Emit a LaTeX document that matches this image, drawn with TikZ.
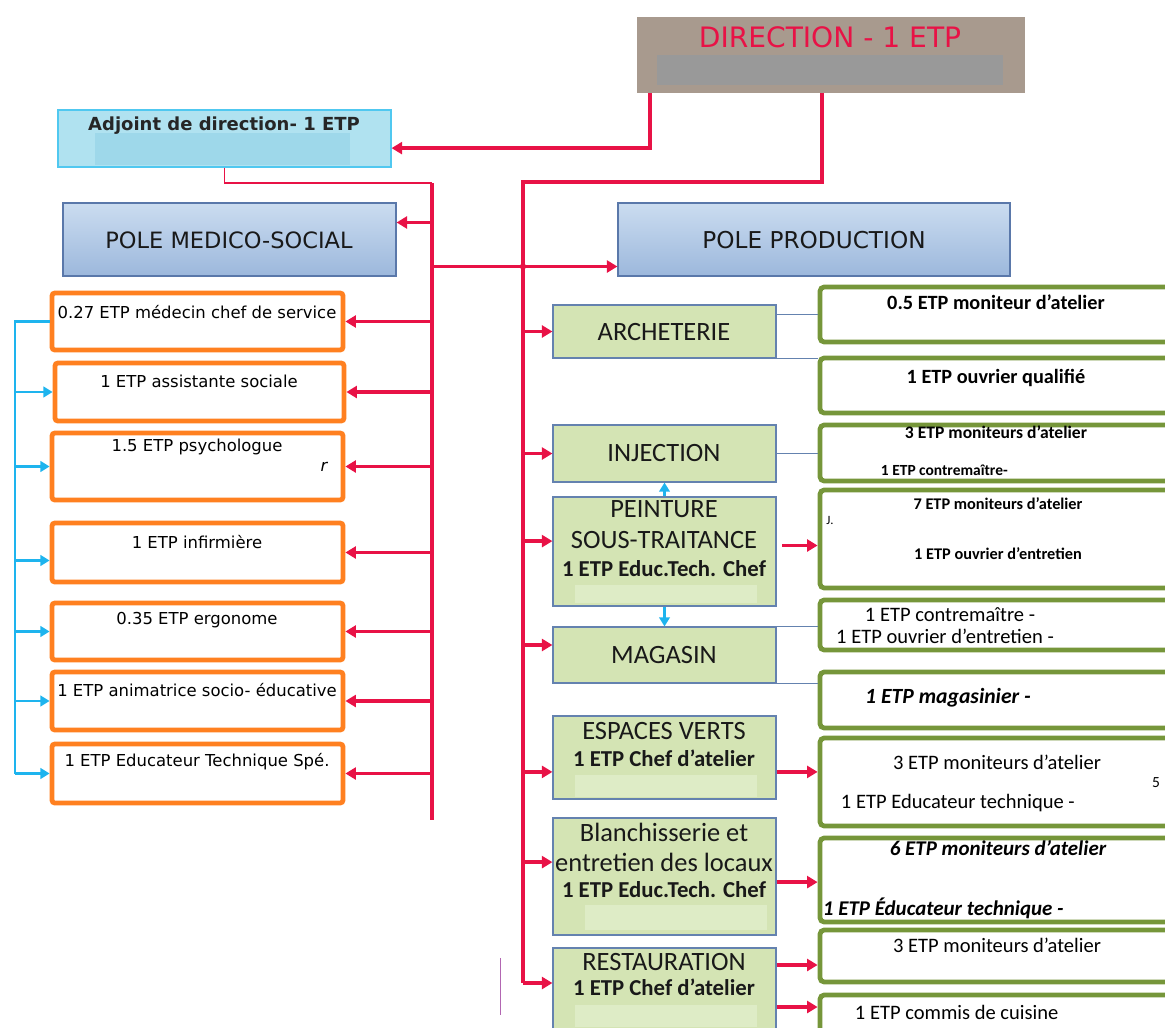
\documentclass[tikz,border=0pt]{standalone}
\usepackage{fontspec}
\setmainfont{Carlito}
\newfontfamily\tahfont{DejaVu Sans}
\usetikzlibrary{arrows.meta,fit}

\definecolor{linkred}{RGB}{232,18,70}
\definecolor{linkblue}{RGB}{30,180,238}
\definecolor{msorange}{RGB}{255,128,32}
\definecolor{prodgreen}{RGB}{118,150,58}
\definecolor{dirbrown}{RGB}{168,154,142}
\definecolor{dirgray}{RGB}{153,153,153}
\definecolor{adjfill}{RGB}{176,226,240}
\definecolor{adjpatch}{RGB}{158,216,234}
\definecolor{adjborder}{RGB}{80,200,240}
\definecolor{poletop}{RGB}{203,220,240}
\definecolor{polebot}{RGB}{156,184,220}
\definecolor{poleborder}{RGB}{90,120,170}
\definecolor{atelfill}{RGB}{212,228,180}
\definecolor{atelpatch}{RGB}{222,236,198}
\definecolor{atelborder}{RGB}{100,130,175}

\tikzset{
  dirbox/.style={fill=dirbrown, inner sep=0pt},
  adjbox/.style={fill=adjfill, draw=adjborder, line width=0.8pt, inner sep=0pt},
  polebox/.style={top color=poletop, bottom color=polebot, draw=poleborder, line width=0.8pt, inner sep=0pt},
  msbox/.style={fill=white, draw=msorange, line width=3.4pt, rounded corners=2pt, inner sep=0pt},
  atelbox/.style={fill=atelfill, draw=atelborder, line width=0.8pt, inner sep=0pt},
  staffbox/.style={fill=white, draw=prodgreen, line width=3.4pt, rounded corners=3pt, inner sep=0pt},
  redlink/.style={draw=linkred, line width=2.8pt},
  redarrow/.style={redlink, -{Triangle[length=7.5pt,width=8.5pt]}},
  bluelink/.style={draw=linkblue, line width=2pt},
  bluearrow/.style={bluelink, -{Triangle[length=6.5pt,width=7.5pt]}},
  thinlink/.style={draw=atelborder, line width=0.6pt},
  mstext/.style={font=\tahfont\fontsize{11.7}{14}\selectfont, text=black},
  ateltext/.style={font=\fontsize{18.8}{21}\selectfont, text=black!90},
  atelsub/.style={font=\bfseries\fontsize{16.2}{18}\selectfont, text=black!90},
  stafftext/.style={font=\bfseries\fontsize{14.4}{16}\selectfont, text=black},
  staffplain/.style={font=\fontsize{14.6}{16}\selectfont, text=black},
  staffsmall/.style={font=\bfseries\fontsize{11.6}{13}\selectfont, text=black},
}

\begin{document}
\begin{tikzpicture}[x=0.025cm, y=-0.025cm]
  \path[use as bounding box, clip] (0,0) rectangle (1165,1027);

  % Direction
  \node[dirbox, fit={(637,17) (1025,93)}] (dir) {};
  \fill[dirgray] (657,55) rectangle (1003,85);
  \node[font=\tahfont\fontsize{20}{23}\selectfont, text=linkred] (dirt) at (830,37) {DIRECTION - 1 ETP};

  % Adjoint
  \node[adjbox, fit={(58,110) (391,167)}] (adj) {};
  \fill[adjpatch] (95,133) rectangle (350,165);
  \node[font=\tahfont\bfseries\fontsize{12.8}{15}\selectfont, text=black!85] (adjt) at (224,126) {Adjoint de direction- 1 ETP};

  % Poles
  \node[polebox, fit={(63,203) (396,276)}] (pms) {};
  \node[font=\tahfont\fontsize{16}{18}\selectfont, text=black!90] (pmst) at (229,240) {POLE MEDICO-SOCIAL};
  \node[polebox, fit={(618,203) (1010,276)}] (pprod) {};
  \node[font=\tahfont\fontsize{16.5}{19}\selectfont, text=black!90] (pprodt) at (814,240) {POLE PRODUCTION};

  % Medico-social staff
  \node[msbox, fit={(52,293) (343,350)}] (ms1) {};
  \node[mstext] (ms1t) at (197,312) {0.27 ETP médecin chef de service};
  \node[msbox, fit={(55,363) (344,421)}] (ms2) {};
  \node[mstext] (ms2t) at (199,381) {1 ETP assistante sociale};
  \node[msbox, fit={(52,433) (343,500)}] (ms3) {};
  \node[mstext] (ms3t) at (197,447) {1.5 ETP psychologue};
  \node[mstext, font=\tahfont\itshape\fontsize{11.7}{14}\selectfont] (ms3r) at (324,467) {r};
  \node[msbox, fit={(52,523) (343,582)}] (ms4) {};
  \node[mstext] (ms4t) at (197,542) {1 ETP infirmière};
  \node[msbox, fit={(52,603) (343,660)}] (ms5) {};
  \node[mstext] (ms5t) at (197,620) {0.35 ETP ergonome};
  \node[msbox, fit={(52,672) (343,730)}] (ms6) {};
  \node[mstext] (ms6t) at (197,690) {1 ETP animatrice socio- éducative};
  \node[msbox, fit={(52,744) (343,803)}] (ms7) {};
  \node[mstext] (ms7t) at (197,762) {1 ETP Educateur Technique Spé.};

  % Ateliers
  \node[atelbox, fit={(553,305) (776,358)}] (at1) {};
  \node[ateltext] (at1t) at (664,332) {ARCHETERIE};
  \node[atelbox, fit={(553,425) (776,482)}] (at2) {};
  \node[ateltext] (at2t) at (664,453) {INJECTION};
  \node[atelbox, fit={(553,497) (776,606)}] (at3) {};
  \fill[atelpatch] (575,585) rectangle (757,603);
  \node[ateltext] (at3a) at (664,509) {PEINTURE};
  \node[ateltext] (at3b) at (664,540) {SOUS-TRAITANCE};
  \node[atelsub] (at3c) at (664,569) {1 ETP Educ.Tech. Chef};
  \node[atelbox, fit={(553,627) (776,683)}] (at4) {};
  \node[ateltext] (at4t) at (664,655) {MAGASIN};
  \node[atelbox, fit={(553,716) (776,799)}] (at5) {};
  \fill[atelpatch] (575,775) rectangle (757,797);
  \node[ateltext] (at5a) at (664,731) {ESPACES VERTS};
  \node[atelsub] (at5b) at (664,758) {1 ETP Chef d'atelier};
  \node[atelbox, fit={(553,818) (776,935)}] (at6) {};
  \fill[atelpatch] (585,905) rectangle (767,930);
  \node[ateltext] (at6a) at (664,832) {Blanchisserie et};
  \node[ateltext] (at6b) at (664,862) {entretien des locaux};
  \node[atelsub] (at6c) at (664,890) {1 ETP Educ.Tech. Chef};
  \node[atelbox, fit={(553,948) (776,1040)}] (at7) {};
  \fill[atelpatch] (575,1005) rectangle (757,1027);
  \node[ateltext] (at7a) at (664,962) {RESTAURATION};
  \node[atelsub] (at7b) at (664,987) {1 ETP Chef d'atelier};

  % Production staff
  \node[staffbox, fit={(820,287) (1180,342)}] (st1) {};
  \node[stafftext] (st1t) at (996,302) {0.5 ETP moniteur d'atelier};
  \node[staffbox, fit={(820,358) (1180,413)}] (st2) {};
  \node[stafftext] (st2t) at (996,378) {1 ETP ouvrier qualifié};
  \node[staffbox, fit={(820,425) (1180,481)}] (st3) {};
  \node[staffsmall, font=\bfseries\fontsize{12.5}{14}\selectfont] (st3a) at (996,432) {3 ETP moniteurs d'atelier};
  \node[staffsmall, font=\bfseries\fontsize{11}{13}\selectfont, anchor=west] (st3b) at (876,470) {1 ETP contremaître-};
  \node[staffbox, fit={(820,490) (1180,588)}] (st4) {};
  \node[staffsmall] (st4a) at (998,504) {7 ETP moniteurs d'atelier};
  \node[staffsmall] (st4b) at (998,554) {1 ETP ouvrier d'entretien};
  \node[staffsmall, font=\fontsize{9}{11}\selectfont] (st4j) at (830,520) {J.};
  \node[staffbox, fit={(820,600) (1180,650)}] (st5) {};
  \node[staffplain] (st5a) at (950,615) {1 ETP contremaître -};
  \node[staffplain] (st5b) at (945,636) {1 ETP ouvrier d'entretien -};
  \node[staffbox, fit={(820,672) (1180,728)}] (st6) {};
  \node[stafftext, font=\bfseries\itshape\fontsize{15.4}{17}\selectfont] (st6t) at (948,698) {1 ETP magasinier -};
  \node[staffbox, fit={(820,738) (1180,826)}] (st7) {};
  \node[staffplain] (st7a) at (997,762) {3 ETP moniteurs d'atelier};
  \node[staffplain, anchor=west] (st7b) at (836,803) {1 ETP Educateur technique -};
  \node[staffplain, font=\fontsize{11}{13}\selectfont] (st7c) at (1156,783) {5};
  \node[staffbox, fit={(820,838) (1180,922)}] (st8) {};
  \node[stafftext, font=\bfseries\itshape\fontsize{14.9}{17}\selectfont] (st8a) at (998,848) {6 ETP moniteurs d'atelier};
  \node[stafftext, font=\bfseries\itshape\fontsize{14.9}{17}\selectfont, anchor=west] (st8b) at (818,908) {1 ETP Éducateur technique -};
  \node[staffbox, fit={(820,930) (1180,982)}] (st9) {};
  \node[staffplain] (st9t) at (997,945) {3 ETP moniteurs d'atelier};
  \node[staffbox, fit={(820,995) (1180,1045)}] (st10) {};
  \node[staffplain, anchor=west] (st10t) at (850,1012) {1 ETP commis de cuisine};

  % Trunks
  \coordinate (ltop) at (432,183);
  \coordinate (lbot) at (432,820);
  \coordinate (rtop) at (523,182);
  \coordinate (rbot) at (523,983);
  \coordinate (bx) at (15,0);
  \draw[redarrow] ([xshift=0.325cm]dir.south west) |- ([yshift=-0.24cm]adj.east);
  \draw[redlink] ([xshift=4.625cm]dir.south west) |- (rtop) -- (rbot);
  \draw[linkred, line width=0.9pt] (adj.south) |- (ltop);
  \draw[redlink] (ltop) -- (lbot);

  % Poles links
  \draw[redarrow] ([yshift=0.425cm]ltop |- pms.east) -- ([yshift=0.425cm]pms.east);
  \coordinate (pp) at ([yshift=-0.675cm]pprod.west);
  \draw[redarrow] (ltop |- pp) -- (pp);
  \fill[linkred] (rtop |- pp) circle (2.2pt);

  % Medico-social links
  \draw[redarrow] (ltop |- ms1.east) -- (ms1.east);
  \draw[redarrow] (ltop |- ms2.east) -- (ms2.east);
  \draw[redarrow] (ltop |- ms3.east) -- (ms3.east);
  \draw[redarrow] (ltop |- ms4.east) -- (ms4.east);
  \draw[redarrow] (ltop |- ms5.east) -- (ms5.east);
  \draw[redarrow] (ltop |- ms6.east) -- (ms6.east);
  \draw[redarrow] (ltop |- ms7.east) -- (ms7.east);
  \draw[bluelink] (ms1.west) -- (bx |- ms1.west) -- (bx |- ms7.west);
  \draw[bluearrow] (bx |- ms2.west) -- (ms2.west);
  \draw[bluearrow] (bx |- ms3.west) -- (ms3.west);
  \draw[bluearrow] ([yshift=-0.2cm]bx |- ms4.west) -- ([yshift=-0.2cm]ms4.west);
  \draw[bluearrow] (bx |- ms5.west) -- (ms5.west);
  \draw[bluearrow] (bx |- ms6.west) -- (ms6.west);
  \draw[bluearrow] (bx |- ms7.west) -- (ms7.west);

  % Ateliers links
  \draw[redarrow] (rtop |- at1.west) -- (at1.west);
  \draw[redarrow] (rtop |- at2.west) -- (at2.west);
  \draw[redarrow] ([yshift=0.26cm]rtop |- at3.west) -- ([yshift=0.26cm]at3.west);
  \draw[redarrow] ([yshift=0.25cm]rtop |- at4.west) -- ([yshift=0.25cm]at4.west);
  \draw[redarrow] ([yshift=-0.36cm]rtop |- at5.west) -- ([yshift=-0.36cm]at5.west);
  \draw[redarrow] ([yshift=0.36cm]rtop |- at6.west) -- ([yshift=0.36cm]at6.west);
  \draw[redarrow] (rbot) -- (rbot -| at7.west);
  \draw[bluearrow] (at3.north) -- (at2.south);
  \draw[bluearrow] (at3.south) -- (at4.north);

  % Staff links
  \draw[thinlink] (at1.east |- st1.west) -- (st1.west);
  \draw[thinlink] (at1.south east) -- (at1.south east -| st2.west);
  \draw[thinlink] (at2.east) -- (at2.east -| st3.west);
  \draw[redarrow] ([xshift=4pt, yshift=0.15cm]at3.east) -- ([yshift=0.15cm]at3.east -| st4.west);
  \draw[thinlink] (at4.north east) -- (at4.north east -| st5.west);
  \draw[thinlink] (at4.south east) -- (at4.south east -| st6.west);
  \draw[redarrow] ([yshift=-0.36cm]at5.east) -- ([yshift=-0.36cm]at5.east -| st7.west);
  \draw[redarrow] ([yshift=-0.14cm]at6.east) -- ([yshift=-0.14cm]at6.east -| st8.west);
  \draw[redarrow] ([yshift=0.725cm]at7.east) -- ([yshift=0.725cm]at7.east -| st9.west);
  \draw[redarrow] ([yshift=-0.325cm]at7.east) -- ([yshift=-0.325cm]at7.east -| st10.west);

  % Stray mark
  \draw[violet!60, line width=0.6pt] (500,958) -- (500,1015);
\end{tikzpicture}
\end{document}
